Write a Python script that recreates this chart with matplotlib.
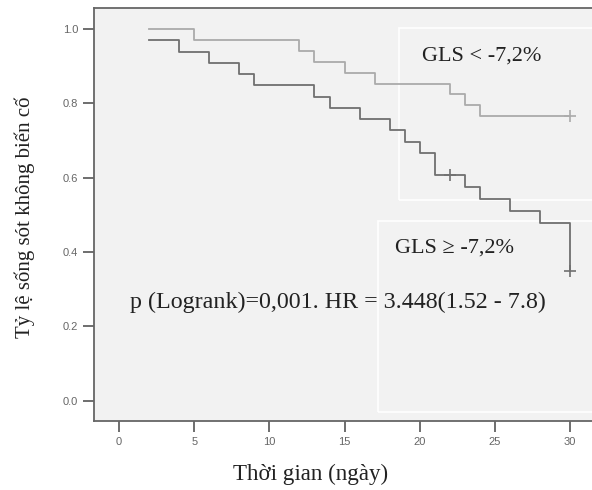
import matplotlib
matplotlib.use("Agg")
import matplotlib.pyplot as plt
from matplotlib.patches import Rectangle

# Kaplan-Meier steps (day, survival after the step)
t_thap = [2, 5, 12, 13, 15, 17, 22, 23, 24, 30]
s_thap = [1.0, 0.971, 0.941, 0.912, 0.882, 0.853, 0.824, 0.794, 0.765, 0.765]
kiem_duyet_thap = ([30], [0.765])

t_cao = [2, 4, 6, 8, 9, 13, 14, 16, 18, 19, 20, 21, 23, 24, 26, 28, 30]
s_cao = [0.970, 0.939, 0.909, 0.879, 0.848, 0.818, 0.788, 0.758, 0.727,
         0.697, 0.667, 0.606, 0.574, 0.542, 0.510, 0.478, 0.350]
kiem_duyet_cao = ([22, 30], [0.606, 0.350])

nhan_thap = "GLS < -7,2%"
nhan_cao = "GLS \u2265 -7,2%"
nhan_p = "p (Logrank)=0,001. HR = 3.448(1.52 - 7.8)"

x_ticks = [0, 5, 10, 15, 20, 25, 30]
y_ticks = [0.0, 0.2, 0.4, 0.6, 0.8, 1.0]

MAU_NHAT = "#ababab"
MAU_DAM = "#707070"
SERIF = ["Liberation Serif", "DejaVu Serif"]

fig = plt.figure(figsize=(5.92, 4.90), dpi=100)
ax = fig.add_axes([94 / 592, 69 / 490, 1 - 94 / 592, (421 - 8) / 490])
ax.set_facecolor("#f2f2f2")

# white frames of the label boxes
ax.add_patch(Rectangle((18.62, 0.540), 15, 0.463, fill=False,
                       edgecolor="white", linewidth=1.2, zorder=1))
ax.add_patch(Rectangle((17.22, -0.030), 15, 0.514, fill=False,
                       edgecolor="white", linewidth=1.2, zorder=1))

ax.step(t_thap, s_thap, where="post", color=MAU_NHAT, linewidth=1.3, zorder=3)
ax.step(t_cao, s_cao, where="post", color=MAU_DAM, linewidth=1.3, zorder=3)
ax.plot(*kiem_duyet_thap, linestyle="none", marker="+", markersize=8,
        color=MAU_NHAT, markeredgewidth=1.2, zorder=4)
ax.plot(*kiem_duyet_cao, linestyle="none", marker="+", markersize=8,
        color=MAU_DAM, markeredgewidth=1.2, zorder=4)

ax.text(20.15, 0.915, nhan_thap, family=SERIF, fontsize=16, color="#222222")
ax.text(18.35, 0.399, nhan_cao, family=SERIF, fontsize=16, color="#222222")
ax.text(0.73, 0.249, nhan_p, family=SERIF, fontsize=17.3, color="#222222")

ax.set_xlim(-1.66, 31.45)
ax.set_ylim(-0.054, 1.056)
ax.set_xticks(x_ticks)
ax.set_yticks(y_ticks)
ax.set_yticklabels([f"{v:.1f}" for v in y_ticks])
ax.tick_params(direction="out", length=8, width=1.2, color="#555555",
               labelsize=8, labelcolor="#666666")
for lbl in ax.get_xticklabels() + ax.get_yticklabels():
    lbl.set_family("Liberation Sans")

for sp in ax.spines.values():
    sp.set_color("#666666")
    sp.set_linewidth(1.3)
ax.spines["right"].set_visible(False)

fig.text(25 / 592, 1 - 217 / 490, "T\u1ef7 l\u1ec7 s\u1ed1ng s\u00f3t kh\u00f4ng bi\u1ebfn c\u1ed1",
         family=SERIF, fontsize=15, rotation=90, ha="center", va="center",
         color="#222222")
fig.text(311 / 592, 1 - 474 / 490, "Th\u1eddi gian (ng\u00e0y)", family=SERIF,
         fontsize=16.6, ha="center", va="center", color="#222222")

fig.savefig("out.png", dpi=100, facecolor="white")
